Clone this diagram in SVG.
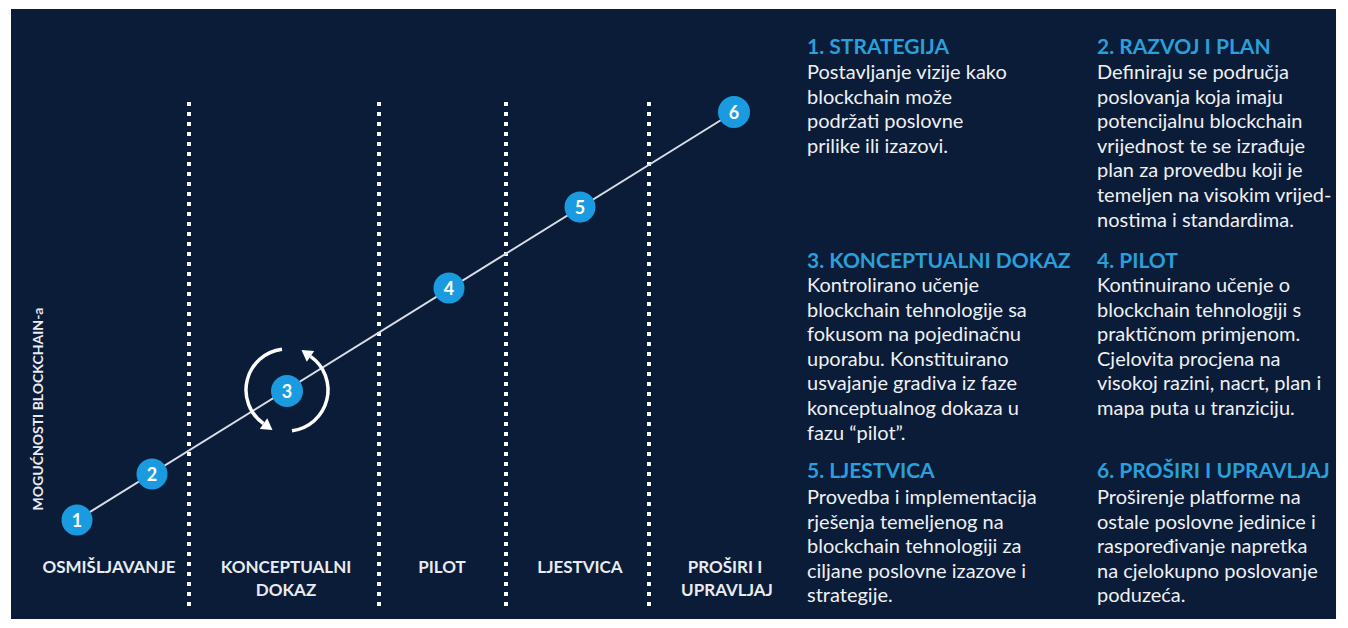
<svg xmlns="http://www.w3.org/2000/svg" width="1348" height="628" viewBox="0 0 1348 628">
<style>
.bg{fill:#0b1c38}
.dots{stroke:#ffffff;stroke-width:4;stroke-dasharray:4 6}
.conn{stroke:#d9dee6;stroke-width:2;fill:none}
.cyc{stroke:#ffffff;stroke-width:3.5;fill:none}
.node{fill:#1a9be0}
.num{font-family:Lato,"Open Sans",sans-serif;font-weight:700;font-size:18px;fill:#ffffff;text-anchor:middle}
.phase{font-family:Lato,"Open Sans",sans-serif;font-weight:700;font-size:17px;fill:#e8ebf0;text-anchor:middle}
.axis{font-family:Lato,"Open Sans",sans-serif;font-weight:700;font-size:14px;fill:#e8ebf0;text-anchor:middle}
.head{font-family:Lato,"Open Sans",sans-serif;font-weight:700;font-size:21px;fill:#2a9fd9}
.body{font-family:Lato,"Open Sans",sans-serif;font-size:20px;fill:#eef0f3}
</style>
<defs>
<marker id="ah" markerUnits="userSpaceOnUse" markerWidth="14" markerHeight="14" refX="0" refY="0" viewBox="-1 -7 13 14" orient="auto">
<path d="M0,-6.5 L11,0 L0,6.5 z" fill="#ffffff"/>
</marker>
</defs>
<rect class="bg" x="11" y="9" width="1325" height="610"/>
<g id="dividers">
<line class="dots" x1="189" y1="102" x2="189" y2="606"/>
<line class="dots" x1="379" y1="102" x2="379" y2="606"/>
<line class="dots" x1="506" y1="102" x2="506" y2="606"/>
<line class="dots" x1="649" y1="102" x2="649" y2="606"/>
</g>
<g id="connectors">
<line class="conn" x1="77" y1="520" x2="734" y2="112"/>
<path class="cyc" d="M282,349.3 A41,41 0 0 0 263.5,423.6" marker-end="url(#ah)"/>
<path class="cyc" d="M292,430.7 A41,41 0 0 0 310.5,356.4" marker-end="url(#ah)"/>
</g>
<g id="n1"><circle class="node" cx="77" cy="520" r="15.5"/><text class="num" x="77" y="526.5">1</text></g>
<g id="n2"><circle class="node" cx="152" cy="474" r="15.5"/><text class="num" x="152" y="480.5">2</text></g>
<g id="n3"><circle class="node" cx="287" cy="391" r="16"/><text class="num" x="287" y="397.5">3</text></g>
<g id="n4"><circle class="node" cx="449" cy="288" r="15.5"/><text class="num" x="449" y="294.5">4</text></g>
<g id="n5"><circle class="node" cx="580" cy="207" r="15.5"/><text class="num" x="580" y="213.5">5</text></g>
<g id="n6"><circle class="node" cx="734" cy="112" r="16"/><text class="num" x="734" y="118.5">6</text></g>
<g id="axis-label"><text class="axis" transform="translate(43,409) rotate(-90)">MOGUĆNOSTI BLOCKCHAIN-a</text></g>
<g id="phases">
<text class="phase" x="109" y="573">OSMIŠLJAVANJE</text>
<text class="phase" x="286" y="573">KONCEPTUALNI</text>
<text class="phase" x="286" y="596">DOKAZ</text>
<text class="phase" x="442" y="573">PILOT</text>
<text class="phase" x="580" y="573">LJESTVICA</text>
<text class="phase" x="725" y="573">PROŠIRI I</text>
<text class="phase" x="727" y="596">UPRAVLJAJ</text>
</g>
<g id="s1">
<text class="head" x="807" y="54">1. STRATEGIJA</text>
<text class="body" x="807" y="79">Postavljanje vizije kako</text>
<text class="body" x="807" y="103.6">blockchain može</text>
<text class="body" x="807" y="128.2">podržati poslovne</text>
<text class="body" x="807" y="152.8">prilike ili izazovi.</text>
</g>
<g id="s2">
<text class="head" x="1097" y="54">2. RAZVOJ I PLAN</text>
<text class="body" x="1097" y="79">Definiraju se područja</text>
<text class="body" x="1097" y="103.6">poslovanja koja imaju</text>
<text class="body" x="1097" y="128.2">potencijalnu blockchain</text>
<text class="body" x="1097" y="152.8">vrijednost te se izrađuje</text>
<text class="body" x="1097" y="177.4">plan za provedbu koji je</text>
<text class="body" x="1097" y="202">temeljen na visokim vrijed-</text>
<text class="body" x="1097" y="226.6">nostima i standardima.</text>
</g>
<g id="s3">
<text class="head" x="807" y="268">3. KONCEPTUALNI DOKAZ</text>
<text class="body" x="807" y="292">Kontrolirano učenje</text>
<text class="body" x="807" y="316.6">blockchain tehnologije sa</text>
<text class="body" x="807" y="341.2">fokusom na pojedinačnu</text>
<text class="body" x="807" y="365.8">uporabu. Konstituirano</text>
<text class="body" x="807" y="390.4">usvajanje gradiva iz faze</text>
<text class="body" x="807" y="415">konceptualnog dokaza u</text>
<text class="body" x="807" y="439.6">fazu “pilot”.</text>
</g>
<g id="s4">
<text class="head" x="1097" y="268">4. PILOT</text>
<text class="body" x="1097" y="292">Kontinuirano učenje o</text>
<text class="body" x="1097" y="316.6">blockchain tehnologiji s</text>
<text class="body" x="1097" y="341.2">praktičnom primjenom.</text>
<text class="body" x="1097" y="365.8">Cjelovita procjena na</text>
<text class="body" x="1097" y="390.4">visokoj razini, nacrt, plan i</text>
<text class="body" x="1097" y="415">mapa puta u tranziciju.</text>
</g>
<g id="s5">
<text class="head" x="807" y="478">5. LJESTVICA</text>
<text class="body" x="807" y="504">Provedba i implementacija</text>
<text class="body" x="807" y="528.6">rješenja temeljenog na</text>
<text class="body" x="807" y="553.2">blockchain tehnologiji  za</text>
<text class="body" x="807" y="577.8">ciljane poslovne izazove i</text>
<text class="body" x="807" y="602.4">strategije.</text>
</g>
<g id="s6">
<text class="head" x="1097" y="478">6. PROŠIRI I UPRAVLJAJ</text>
<text class="body" x="1097" y="504">Proširenje platforme na</text>
<text class="body" x="1097" y="528.6">ostale poslovne jedinice i</text>
<text class="body" x="1097" y="553.2">raspoređivanje napretka</text>
<text class="body" x="1097" y="577.8">na cjelokupno poslovanje</text>
<text class="body" x="1097" y="602.4">poduzeća.</text>
</g>
</svg>
